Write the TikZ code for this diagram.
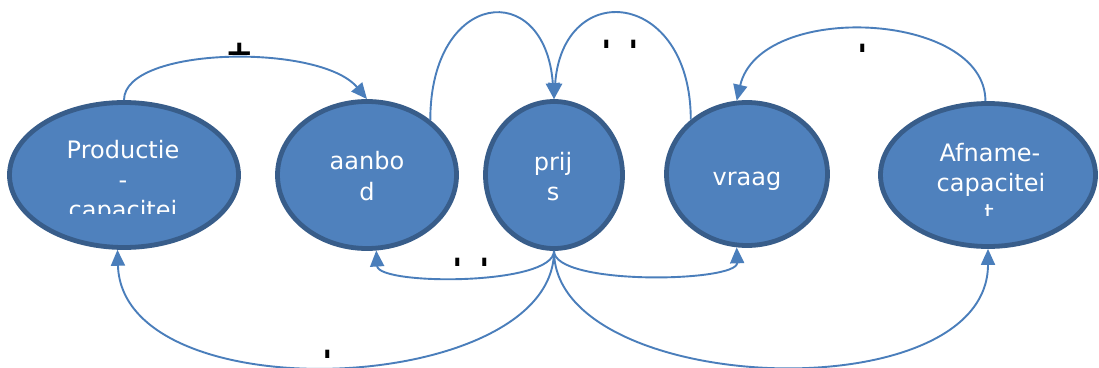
\documentclass[tikz,border=0pt]{standalone}
\usepackage{fontspec}
\setmainfont{DejaVu Sans}
\usetikzlibrary{shapes.geometric,arrows.meta}
\definecolor{nodefill}{HTML}{4F81BD}
\definecolor{nodeline}{HTML}{385D8A}
\definecolor{linkblue}{HTML}{4A7EBB}
\tikzset{
  bubble/.style={ellipse, draw=nodeline, fill=nodefill, line width=4.8pt, inner sep=0pt},
  bubbletext/.style={text=white, font=\fontsize{24}{30}\selectfont, inner sep=0pt, anchor=base},
  link/.style={draw=linkblue, line width=1.9pt, -{Triangle[length=16pt,width=14pt]}},
  signmark/.style={font=\bfseries\fontsize{34}{34}\selectfont, inner sep=0pt, anchor=base, text=black},
}
% a "+" sign on baseline #3, shown only between #4 and #5
\newcommand\clippedsign[5]{%
  \begin{scope}
    \clip ({#2-15},#4) rectangle ({#2+15},#5);
    \node[signmark] (#1) at (#2,#3) {+};
  \end{scope}}
\begin{document}
\begin{tikzpicture}[x=1pt,y=-1pt]
\useasboundingbox (0,0) rectangle (1099,367);
\fill[white] (0,0) rectangle (1099,367);

% circles of the loop
\node[bubble, minimum width=229pt, minimum height=145pt] (prod)   at (124,175) {};
\node[bubble, minimum width=179pt, minimum height=147pt] (aanbod) at (367,175) {};
\node[bubble, minimum width=137pt, minimum height=147pt] (prijs)  at (554,175) {};
\node[bubble, minimum width=161pt, minimum height=143pt] (vraag)  at (747,174) {};
\node[bubble, minimum width=215pt, minimum height=143pt] (afname) at (988,175) {};

% texts in the circles
\begin{scope}
  \clip (0,120) rectangle (250,213);
  \node[bubbletext] (prodA) at (123,158) {Productie};
  \node[bubbletext] (prodB) at (123,188) {-};
  \node[bubbletext] (prodC) at (123,218) {capacitei};
\end{scope}
\node[bubbletext] (aanbodA) at (367,169) {aanbo};
\node[bubbletext] (aanbodB) at (367,200) {d};
\node[bubbletext] (prijsA) at (553,170) {prij};
\node[bubbletext] (prijsB) at (553,200) {s};
\node[bubbletext] (vraagA) at (747,185) {vraag};
\begin{scope}
  \clip (880,120) rectangle (1099,215);
  \node[bubbletext] (afnameA) at (990,161) {Afname-};
  \node[bubbletext] (afnameB) at (991,191) {capacitei};
  \node[bubbletext] (afnameC) at (989,221) {t};
\end{scope}

% connectors
\draw[link] (prod.north) .. controls +(0,-54) and +(-47,-56) .. (aanbod.north);
\draw[link] (aanbod.41) .. controls +(0,-130) and +(-9,-122) .. (prijs.north);
\draw[link] (vraag.136) .. controls +(0,-130) and +(9,-122) .. (prijs.north);
\draw[link] (afname.92) .. controls +(0,-90) and +(23,-100) .. (vraag.98);
\draw[link] (prijs.south) .. controls +(0,35) and +(2,35) .. (aanbod.-83);
\draw[link] (prijs.south) .. controls +(0,35) and +(1,35) .. (vraag.-98);
\draw[link] (prijs.south) .. controls +(0,145) and +(5,165) .. (prod.-95);
\draw[link] (prijs.south) .. controls +(0,145) and +(0,165) .. (afname.south);

% signs on the connectors
\clippedsign{signA}{240}{64.7}{40}{54.5}
\clippedsign{signB}{458}{279.5}{254}{265}
\clippedsign{signC}{485}{279.5}{254}{265}
\clippedsign{signD}{607}{61.5}{36}{47}
\clippedsign{signE}{634}{61.5}{36}{47}
\clippedsign{signF}{863}{65.5}{40}{51}
\clippedsign{signG}{328}{371.5}{345}{357}
\end{tikzpicture}
\end{document}
